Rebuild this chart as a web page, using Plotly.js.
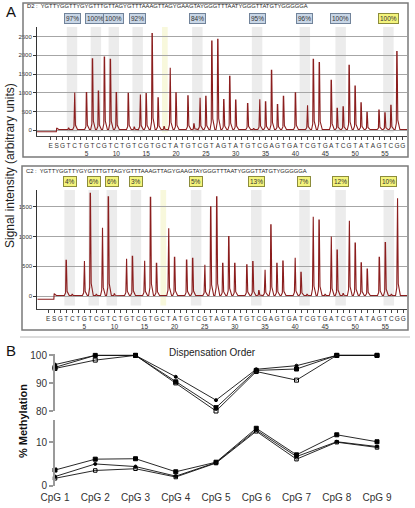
<!DOCTYPE html>
<html><head><meta charset="utf-8">
<script src="https://cdn.plot.ly/plotly-3.0.1.min.js"></script>
<style>html,body{margin:0;padding:0;background:#fff}#chart{width:415px;height:508px}</style>
</head><body><div id="chart"></div>
<script>
// ---------- DATA ----------
const dispensationOrder = "E S G T C T G T C G T C T G T C G T G C T A T G T C G T A G T A T G T C G A G T G A T C G T G A T C G T A T A G T C G G".split(" ");
const sequenceText = "YGTTYGGTTYGYGTTTGTTAGYGTTTAAAGTTAGYGAAGTAYGGGTTTAATYGGGTTATGTYGGGGGA";
const sample1Name = "D2";
const sample2Name = "C2";
// peak heights for dispensations 1..58 (arbitrary units)
const peaksD2 = [0,60,1010,0,1010,1910,1045,1955,1895,1010,
                 0,990,85,955,980,2580,870,100,1670,1000,
                 0,920,175,870,910,2380,2430,820,1440,805,
                 0,715,45,830,760,1600,690,910,0,1000,
                 30,670,1895,1805,0,1335,585,630,1735,1180,
                 735,480,0,540,470,670,2100,0];
const peaksC2 = [0,600,30,0,590,1729,30,1150,1672,35,
                 15,625,670,20,595,1661,550,15,1140,650,
                 0,605,635,20,525,1500,1670,550,1000,550,
                 0,525,580,90,440,1200,550,590,15,645,
                 400,30,1335,1280,30,1000,775,40,1265,890,
                 560,455,0,650,900,30,1645,0];
const cpgTPositions = [2,6,9,13,23,33,41,47,55];   // T of each T/C pair
const controlPosition = 18;
const pctD2 = ["97%","100%","100%","92%","84%","95%","96%","100%","100%"];
const pctC2 = ["4%","6%","6%","3%","5%","13%","7%","12%","10%"];
const yTicksD2 = [0,500,1000,1500,2000,2500];
const yTicksC2 = [0,500,1000,1500];

const cpgLabels = ["CpG 1","CpG 2","CpG 3","CpG 4","CpG 5","CpG 6","CpG 7","CpG 8","CpG 9"];
const highA = [96.7,100,100,92.3,83.9,95.0,96.3,100,100];
const highB = [95.7,100,100,90.5,81.2,94.6,95.1,100,100];
const highC = [95.3,98.3,100,90.1,80.0,94.2,91.1,100,100];
const lowA  = [3.6,6.1,6.2,3.2,5.4,13.2,7.1,11.7,10.1];
const lowB  = [2.1,5.0,4.4,2.2,5.3,12.8,6.7,10.1,9.0];
const lowC  = [1.7,3.5,3.9,2.0,5.2,12.5,6.1,10.0,8.8];

// ---------- LAYOUT HELPERS ----------
const W=415,H=508;
const px=x=>x/W, py=y=>1-y/H;
const FONT="Liberation Sans, Arial, sans-serif";
const peakColor="#8b1e1e";

const positions = dispensationOrder.map((_,i)=>i-1);
const tickText = dispensationOrder.map((l,i)=>{const n=i-1; return (n>0&&n%5===0)? l+"<br>"+n : l;});

function pyroTrace(heights, preBase, sPeak, base, xStart, xEnd, xa, ya){
  const xs=[xStart,-0.05], ys=[preBase,preBase];
  xs.push(0,0.35); ys.push(sPeak,base);
  heights.forEach((h,i)=>{
    const n=i+1;
    if(h>base){
      xs.push(n-0.3,n-0.1,n-0.03,n+0.03,n+0.15,n+0.5);
      ys.push(base,base+0.08*(h-base),h,h,base+0.12*(h-base),base);
    }
  });
  xs.push(xEnd); ys.push(base);
  return {x:xs,y:ys,xaxis:xa,yaxis:ya,mode:"lines",line:{color:peakColor,width:1.1},hoverinfo:"skip",showlegend:false};
}

const r1=[-3.29,58.69], r2=[-2.8,58.6];
const data=[
  pyroTrace(peaksD2,-40,60,20,r1[0],r1[1],"x","y"),
  pyroTrace(peaksC2,-56,40,8,r2[0],r2[1],"x2","y2"),
];
const lineStyle={color:"#111",width:0.9};
function mseries(vals,xa,ya,sym,size){
  return {x:cpgLabels,y:vals,xaxis:xa,yaxis:ya,mode:"lines+markers",cliponaxis:false,
    line:lineStyle,marker:{symbol:sym,size:size,color:"#000",line:{color:"#000",width:1}},showlegend:false,hoverinfo:"skip"};
}
data.push(mseries(highA,"x4","y3","circle",3));
data.push(mseries(highB,"x4","y3","square",4));
data.push(mseries(highC,"x4","y3","square-open",4));
data.push(mseries(lowA,"x3","y4","square",4));
data.push(mseries(lowB,"x3","y4","circle",3));
data.push(mseries(lowC,"x3","y4","square-open",3.5));

const shapes=[], annotations=[];
function bands(xref,yref){
  cpgTPositions.forEach(t=>{
    shapes.push({type:"rect",xref:xref,yref:yref+" domain",x0:t-0.3,x1:t+1+0.45,y0:0.03,y1:1,fillcolor:"#ececec",line:{width:0},layer:"below"});
  });
  shapes.push({type:"rect",xref:xref,yref:yref+" domain",x0:controlPosition-0.35,x1:controlPosition+0.6,y0:0.03,y1:1,fillcolor:"#f8f8dc",line:{width:0},layer:"below"});
}
bands("x","y"); bands("x2","y2");
function pctLabels(labels,xref,yPix,allYellow){
  labels.forEach((t,i)=>{
    const yellow = allYellow || i===labels.length-1;
    annotations.push({xref:xref,yref:"paper",x:cpgTPositions[i]+0.575,y:py(yPix),text:t,showarrow:false,
      font:{family:FONT,size:6.5,color:"#333"},bgcolor:yellow?"#f4f47c":"#c8d6e6",
      bordercolor:yellow?"#8c8c3c":"#71839a",borderwidth:1,borderpad:1,xanchor:"center",yanchor:"middle"});
  });
}
pctLabels(pctD2,"x",18,false);
pctLabels(pctC2,"x2",181.5,true);

// panel boxes & separator
shapes.push({type:"rect",xref:"paper",yref:"paper",x0:px(23),x1:px(408),y0:py(157),y1:py(3),line:{color:"#7a7a7a",width:1.5}});
shapes.push({type:"rect",xref:"paper",yref:"paper",x0:px(22),x1:px(408),y0:py(330),y1:py(166),line:{color:"#7a7a7a",width:1.5}});
shapes.push({type:"line",xref:"paper",yref:"paper",x0:px(20),x1:px(410),y0:py(337),y1:py(337),line:{color:"#b8b8b8",width:1}});

annotations.push({xref:"paper",yref:"paper",x:px(25),y:py(6.5),text:sample1Name+" :  "+sequenceText,showarrow:false,xanchor:"left",yanchor:"middle",font:{family:FONT,size:5.8,color:"#222"}});
annotations.push({xref:"paper",yref:"paper",x:px(24),y:py(170.5),text:sample2Name+" :  "+sequenceText,showarrow:false,xanchor:"left",yanchor:"middle",font:{family:FONT,size:5.8,color:"#222"}});
annotations.push({xref:"paper",yref:"paper",x:px(4),y:py(12),text:"A",showarrow:false,xanchor:"left",yanchor:"middle",font:{family:FONT,size:15,color:"#111"}});
annotations.push({xref:"paper",yref:"paper",x:px(4),y:py(350),text:"B",showarrow:false,xanchor:"left",yanchor:"middle",font:{family:FONT,size:15,color:"#111"}});
annotations.push({xref:"paper",yref:"paper",x:px(10),y:py(166),text:"Signal intensity (arbitrary units)",textangle:-90,showarrow:false,xanchor:"center",yanchor:"middle",font:{family:FONT,size:12,color:"#222"}});
annotations.push({xref:"paper",yref:"paper",x:px(212),y:py(352),text:"Dispensation Order",showarrow:false,xanchor:"center",yanchor:"middle",font:{family:FONT,size:10,color:"#222"}});
annotations.push({xref:"paper",yref:"paper",x:px(23),y:py(421),text:"<b>% Methylation</b>",textangle:-90,showarrow:false,xanchor:"center",yanchor:"middle",font:{family:FONT,size:11,color:"#111"}});

const pyroX = (dom,range,anchor)=>({domain:dom,range:range,anchor:anchor,tickmode:"array",tickvals:positions,ticktext:tickText,
  ticks:"outside",ticklen:3,tickwidth:1,tickcolor:"#444",showline:true,linecolor:"#444",linewidth:1,
  showgrid:false,zeroline:false,tickangle:0,tickfont:{family:FONT,size:6.5,color:"#333"},fixedrange:true});
const pyroY = (dom,range,anchor,tv)=>({domain:dom,range:range,anchor:anchor,tickmode:"array",tickvals:tv,
  ticks:"outside",ticklen:3,tickwidth:1,tickcolor:"#333",showline:true,linecolor:"#333",linewidth:1,
  showgrid:true,gridcolor:"#a6a6a6",gridwidth:1,zeroline:false,tickfont:{family:FONT,size:6,color:"#333"},fixedrange:true});

const layout={
  width:W,height:H,margin:{l:0,r:0,t:0,b:0},paper_bgcolor:"#fff",plot_bgcolor:"rgba(0,0,0,0)",showlegend:false,
  xaxis:pyroX([px(37),px(407)],r1,"y"),
  yaxis:pyroY([py(135.7),py(27)],[-144,2755],"x",yTicksD2),
  xaxis2:pyroX([px(37.3),px(407)],r2,"y2"),
  yaxis2:pyroY([py(309),py(190)],[-219,1785],"x2",yTicksC2),
  xaxis3:{domain:[px(55),px(377)],anchor:"y4",type:"category",range:[0,8],showline:false,ticks:"",showgrid:false,zeroline:false,
    ticklabelstandoff:4,tickfont:{family:FONT,size:10,color:"#333"},fixedrange:true},
  xaxis4:{domain:[px(55),px(377)],anchor:"y3",type:"category",range:[0,8],matches:"x3",showline:false,ticks:"",showticklabels:false,showgrid:false,zeroline:false},
  yaxis3:{domain:[py(411),py(354)],anchor:"x4",range:[80,100.5],tickmode:"array",tickvals:[80,90,100],showline:true,linecolor:"#9a9a9a",linewidth:2,
    ticks:"outside",ticklen:4,tickwidth:2,tickcolor:"#9a9a9a",showgrid:false,zeroline:false,tickfont:{family:FONT,size:10,color:"#333"},fixedrange:true},
  yaxis4:{domain:[py(485.7),py(420)],anchor:"x3",range:[0,15.1],tickmode:"array",tickvals:[0,10],showline:true,linecolor:"#9a9a9a",linewidth:2,
    ticks:"outside",ticklen:4,tickwidth:2,tickcolor:"#9a9a9a",showgrid:false,zeroline:false,tickfont:{family:FONT,size:10,color:"#333"},fixedrange:true},
  shapes:shapes,annotations:annotations
};
Plotly.newPlot("chart",data,layout,{staticPlot:true,displayModeBar:false});
</script></body></html>
